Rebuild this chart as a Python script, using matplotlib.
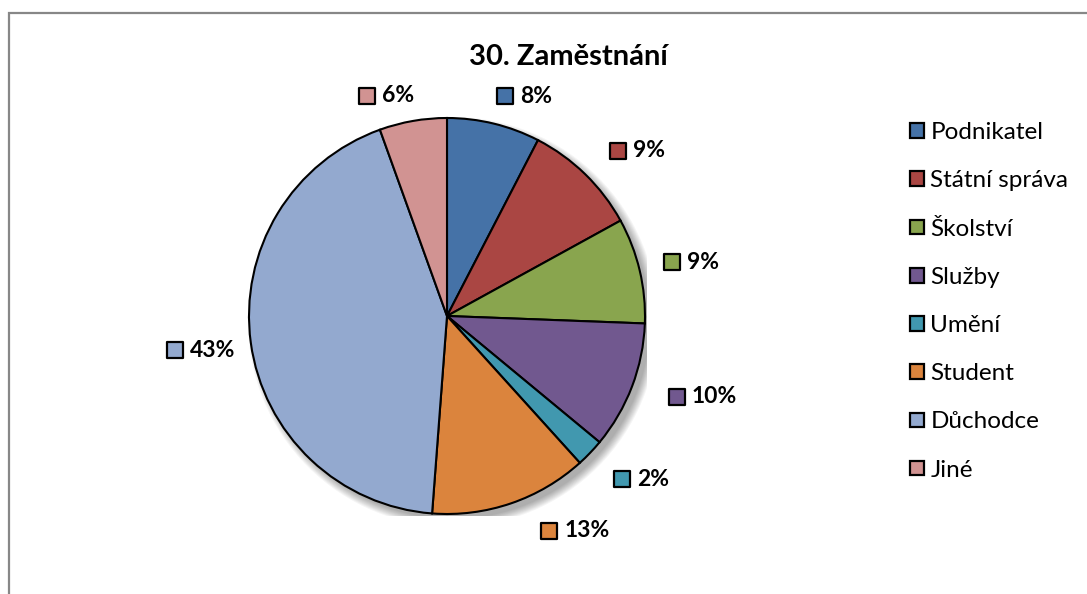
import numpy as np
import matplotlib
matplotlib.use("Agg")
import matplotlib.pyplot as plt
from matplotlib.patches import Circle, Rectangle

# data
categories = ["Podnikatel", "Státní správa", "Školství", "Služby",
              "Umění", "Student", "Důchodce", "Jiné"]
shares = [7.6, 9.4, 8.6, 10.4, 2.3, 12.9, 43.3, 5.5]
labels = ["8%", "9%", "9%", "10%", "2%", "13%", "43%", "6%"]
colors = ["#4572A7", "#AA4643", "#89A54E", "#71588F",
          "#4198AF", "#DB843D", "#93A9CF", "#D19392"]

# layout tweaks for the labels (clockwise nudge in degrees, distance in radii)
nudge = [6, 5, 1, -3, -4, -11, 0, -5]
dist = [1.18, 1.28, 1.27, 1.33, 1.29, 1.25, 1.28, 1.15]

plt.rcParams['font.family'] = ['Lato', 'DejaVu Sans']

W, H = 1087, 594
fig = plt.figure(figsize=(W / 100, H / 100), dpi=100)

# outer chart frame (only left and top visible)
fig.add_artist(Rectangle((9 / W, -0.5), 2.0, 1.5 - 13 / H, transform=fig.transFigure,
                         fill=False, edgecolor="#878787", linewidth=1.6))

cx, cy, R = 447, 316, 198
ax = fig.add_axes([(cx - 200) / W, (H - cy - 200) / H, 400 / W, 400 / H])

# soft shadow
for k in range(9):
    ax.add_patch(Circle((6, -6), R + 7 - k, facecolor="black", alpha=0.04,
                        edgecolor="none", zorder=0))

wedges, _ = ax.pie(shares, colors=colors, startangle=90, counterclock=False,
                   radius=R, wedgeprops=dict(edgecolor="black", linewidth=1.5))
ax.set_xlim(-200, 200)
ax.set_ylim(-200, 200)
ax.set_aspect("equal")
ax.axis("off")

for w, lab, col, nd, d in zip(wedges, labels, colors, nudge, dist):
    ang = np.deg2rad((w.theta1 + w.theta2) / 2 - nd)
    x, y = d * R * np.cos(ang), d * R * np.sin(ang)
    ax.scatter([x - 21], [y], marker="s", s=120, color=col, edgecolor="black",
               linewidth=1.6, clip_on=False, zorder=5)
    ax.text(x - 6, y, lab, ha="left", va="center", fontsize=16.5,
            fontweight="bold", clip_on=False)

fig.text(568 / W, 1 - 57 / H, "30. Zaměstnání", ha="center", va="center",
         fontsize=21, fontweight="bold")

leg = fig.legend(wedges, categories, loc="upper left",
                 bbox_to_anchor=(898 / W, 1 - 110 / H), frameon=False,
                 fontsize=17.5, handlelength=0.55, handleheight=0.55,
                 handletextpad=0.28, labelspacing=1.12, borderpad=0)
for h in leg.legend_handles:
    h.set_linewidth(1.6)
    h.set_edgecolor("black")

fig.savefig("out.png", dpi=100, facecolor="white")
